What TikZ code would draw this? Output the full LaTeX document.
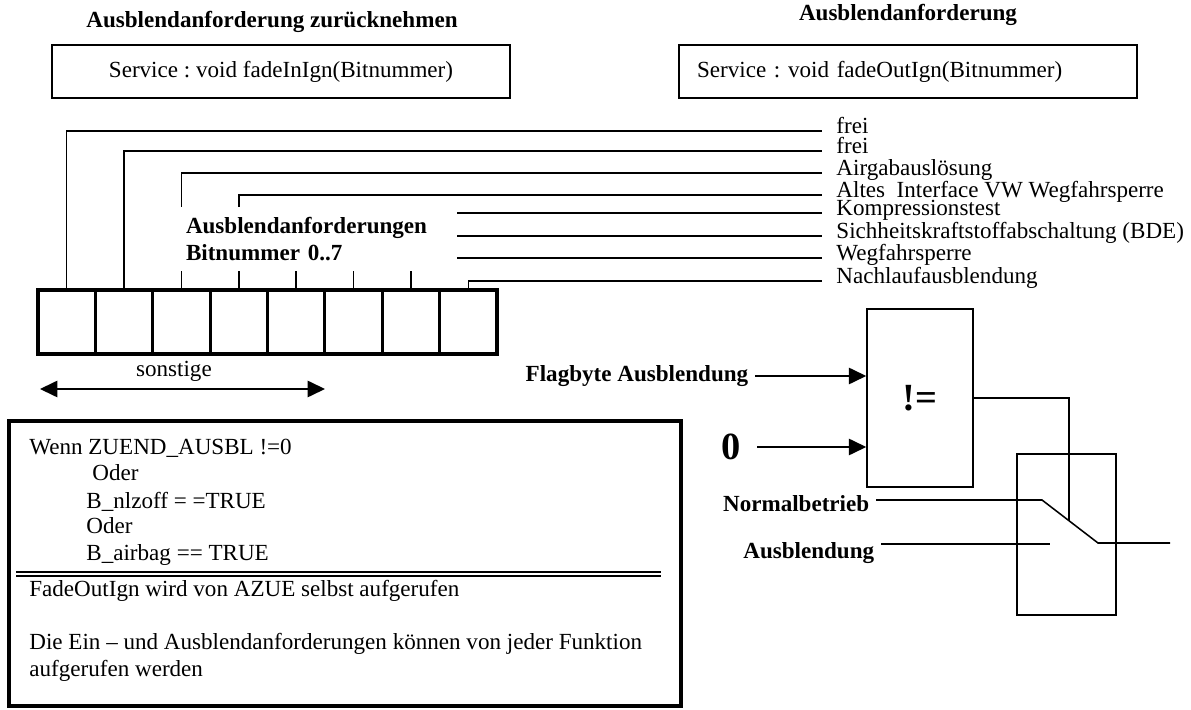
\documentclass[tikz,border=0pt]{standalone}
\usepackage{fontspec}
\setmainfont{Liberation Serif}
\usetikzlibrary{arrows.meta}
\frenchspacing

\def\px{0.52pt}

\begin{document}
\begin{tikzpicture}[x=\px, y=-\px, >={Triangle[length=9pt, width=8.5pt]},
    font=\fontsize{12}{14}\selectfont,
    box/.style={draw, line width=0.8pt, minimum width=458*\px, minimum height=53*\px},
    cell/.style={draw, line width=1.6pt, minimum width=57.4*\px, minimum height=64*\px, outer sep=0pt},
    lab/.style={anchor=base west, inner xsep=7.3pt, inner ysep=0pt},
    wire/.style={line width=0.8pt},
    bold/.style={font=\fontsize{12}{14}\selectfont\bfseries},
    big/.style={font=\fontsize{20}{24}\selectfont\bfseries},
    txt/.style={anchor=base west, inner sep=0pt}]
    \useasboundingbox (0,0) rectangle (1191,710);

    % service calls
    \node[bold] (tIn) at (272,22) {Ausblendanforderung zurücknehmen};
    \node[bold] (tOut) at (908,15) {Ausblendanforderung};
    \node[box] (svcIn) at (281,71.5) {Service : void fadeInIgn(Bitnummer)};
    \node[box, text width=219.4pt, align=left] (svcOut) at (908,71.5) {Service : void fadeOutIgn(Bitnummer)};

    % flag byte, bit 0 on the right
    \foreach \i in {0,...,7}
        \node[cell] (bit\i) at ({497-57.375*(\i+0.5)},322) {};

    \foreach \i/\yy/\name in {7/131/frei, 6/151/frei, 5/173/Airgabauslösung,
            4/195/{Altes\ \ Interface VW Wegfahrsperre}, 3/213/Kompressionstest,
            2/236/{Sichheitskraftstoffabschaltung (BDE)}, 1/258/Wegfahrsperre,
            0/281/Nachlaufausblendung}
        \node[lab] (lab\i) at (822,\yy+3) {\name};

    \foreach \i in {0,...,7}
        \draw[wire] (bit\i.north) |- ([yshift=1.6pt]lab\i.base west);

    \node[bold, fill=white, text width=132.6pt, inner xsep=8.3pt, inner ysep=5.2pt, align=left] (bits) at (313.5,239)
        {Ausblendanforderungen\\Bitnummer 0..7};

    \coordinate (sL) at (40,389);
    \coordinate (sR) at (325,389);
    \draw[wire, <->] (sL) -- node[above=0pt, pos=0.47] (sonst) {sonstige} (sR);

    % comparison and switch
    \node[draw, line width=0.8pt, minimum width=106*\px, minimum height=178*\px, big] (cmp) at (920,398) {!=};
    \node[bold, anchor=east] (flag) at (755,376) {Flagbyte Ausblendung};
    \node[big] (zero) at (731,447) {0};
    \draw[wire, ->] (flag.east) -- (flag.east -| cmp.west);
    \draw[wire, ->, shorten <=5pt] (zero.east) -- (zero.east -| cmp.west);

    \node[draw, line width=0.8pt, minimum width=99*\px, minimum height=161*\px] (sw) at (1066.5,534.5) {};
    \node[bold, anchor=base east] (nb) at (876,511) {Normalbetrieb};
    \node[bold, anchor=base east] (ab) at (881,558) {Ausblendung};
    \coordinate (pA) at (1042,500);
    \coordinate (pB) at (1098,543);
    \coordinate (tap) at (1069,521);
    \coordinate (abEnd) at (1050,544);
    \coordinate (out) at (1170,543);
    \draw[wire] (nb.base east |- pA) -- (pA) -- (pB) -- (out);
    \draw[wire] (ab.base east |- abEnd) -- (abEnd);
    \draw[wire] (cmp.east) -| (tap);

    % notes
    \node[draw, line width=2.1pt, minimum width=672*\px, minimum height=285*\px] (info) at (345,563.5) {};
    \foreach \xx/\yy/\t [count=\k] in {29/455/{Wenn ZUEND\_AUSBL !=0}, 92/481/Oder,
            86/508/{B\_nlzoff = =TRUE}, 86/534/Oder, 86/560/{B\_airbag == TRUE},
            29/596/{FadeOutIgn wird von AZUE selbst aufgerufen},
            29/649/{Die Ein – und Ausblendanforderungen können von jeder Funktion},
            29/676/{aufgerufen werden}}
        \node[txt] (note\k) at (\xx,\yy) {\t};
    \draw[double, double distance=1.2pt, line width=1pt] (16,574) -- (661,574);
\end{tikzpicture}
\end{document}
